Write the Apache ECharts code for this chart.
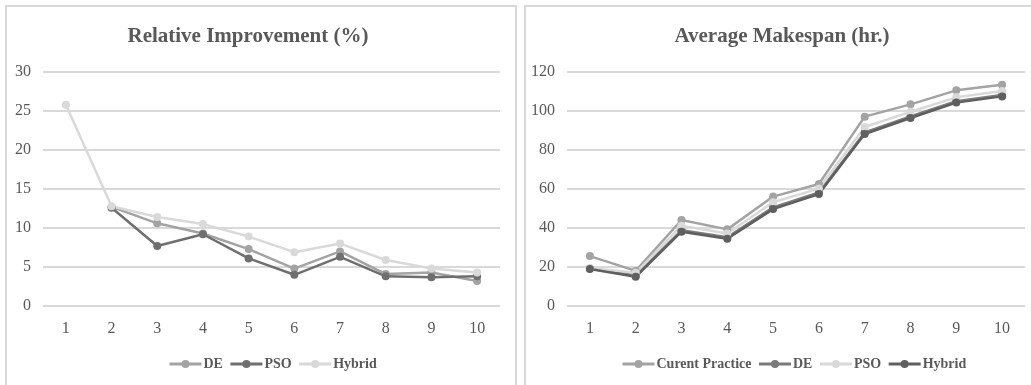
<!DOCTYPE html>
<html>
<head>
<meta charset="utf-8">
<script src="https://cdn.jsdelivr.net/npm/echarts@6/dist/echarts.min.js"></script>
<style>
  html, body { margin: 0; padding: 0; background: #fff; width: 1031px; height: 385px; overflow: hidden; }
  .panel { position: absolute; top: 5px; height: 390px; border: 2px solid #d9d9d9; box-sizing: border-box; }
  .chart { position: absolute; top: 0; height: 385px; }
</style>
</head>
<body>
<div class="panel" style="left:5px; width:512px;"></div>
<div class="panel" style="left:524px; width:520px;"></div>
<div id="left" class="chart" style="left:0; width:520px;"></div>
<div id="right" class="chart" style="left:520px; width:511px;"></div>
<script>
// ---- data ----
const categories = ['1','2','3','4','5','6','7','8','9','10'];

// Relative Improvement (%)
const riTitle = 'Relative Improvement (%)';
const riDE     = ['-', 12.7, 10.6, 9.3, 7.3, 4.8, 7.0, 4.1, 4.3, 3.2];
const riPSO    = ['-', 12.6, 7.7, 9.2, 6.1, 4.0, 6.3, 3.8, 3.7, 3.8];
const riHybrid = [25.8, 12.8, 11.4, 10.5, 8.9, 6.9, 8.0, 5.9, 4.8, 4.3];

// Average Makespan (hr.)
const amTitle = 'Average Makespan (hr.)';
const amCurrent = [25.6, 18.0, 44.1, 39.3, 56.1, 62.6, 97.1, 103.4, 110.6, 113.5];
const amDE      = [19.2, 15.6, 38.8, 35.2, 50.6, 58.2, 89.0, 97.2, 105.0, 108.2];
const amPSO     = [19.5, 17.0, 41.2, 37.2, 53.2, 60.2, 91.8, 99.6, 107.0, 110.2];
const amHybrid  = [19.0, 15.0, 38.1, 34.5, 49.7, 57.4, 88.2, 96.4, 104.3, 107.5];

const TXT = '#595959';
const SERIF = '"Liberation Serif", "Times New Roman", serif';

function lineSeries(name, data, color) {
  return {
    name, type: 'line', data,
    symbol: 'circle', symbolSize: 8,
    lineStyle: { color, width: 2.5 },
    itemStyle: { color },
    connectNulls: false,
    animation: false
  };
}

function buildOption(cfg) {
  return {
    animation: false,
    graphic: [{
      type: 'text', x: cfg.titleX, y: 37,
      style: { text: cfg.title, font: 'bold 21px ' + SERIF, fill: TXT, textAlign: 'center', textVerticalAlign: 'middle' }
    }],
    legend: {
      left: cfg.legendLeft, top: 352,
      itemWidth: 32, itemHeight: 10, itemGap: 6,
      lineStyle: { width: 3 },
      textStyle: { fontFamily: SERIF, fontWeight: 'bold', fontSize: 14, color: TXT, padding: [0, 0, 0, -3] },
      data: cfg.series.map(s => s.name)
    },
    grid: { left: cfg.gridLeft, right: cfg.gridRight, top: 72, bottom: 79 },
    xAxis: {
      type: 'category', data: categories, boundaryGap: true,
      axisLine: { show: false }, axisTick: { show: false },
      axisLabel: { fontFamily: SERIF, fontSize: 16, color: TXT, margin: 15 }
    },
    yAxis: {
      type: 'value', min: 0, max: cfg.max, interval: cfg.interval,
      axisLine: { show: false }, axisTick: { show: false },
      axisLabel: { fontFamily: SERIF, fontSize: 16, color: TXT, margin: 12 },
      splitLine: { lineStyle: { color: '#d9d9d9', width: 2 } }
    },
    series: cfg.series
  };
}

const left = echarts.init(document.getElementById('left'), null, { renderer: 'canvas' });
left.setOption(buildOption({
  title: riTitle, titleX: 248, legendLeft: 163, gridLeft: 43, gridRight: 20, max: 30, interval: 5,
  series: [
    lineSeries('DE', riDE, '#a3a3a3'),
    lineSeries('PSO', riPSO, '#6f6f6f'),
    lineSeries('Hybrid', riHybrid, '#d9d9d9')
  ]
}));

const right = echarts.init(document.getElementById('right'), null, { renderer: 'canvas' });
right.setOption(buildOption({
  title: amTitle, titleX: 262, legendLeft: 96, gridLeft: 47, gridRight: 6, max: 120, interval: 20,
  series: [
    lineSeries('Curent Practice', amCurrent, '#a3a3a3'),
    lineSeries('DE', amDE, '#7a7a7a'),
    lineSeries('PSO', amPSO, '#d9d9d9'),
    lineSeries('Hybrid', amHybrid, '#5f5f5f')
  ]
}));
</script>
</body>
</html>
